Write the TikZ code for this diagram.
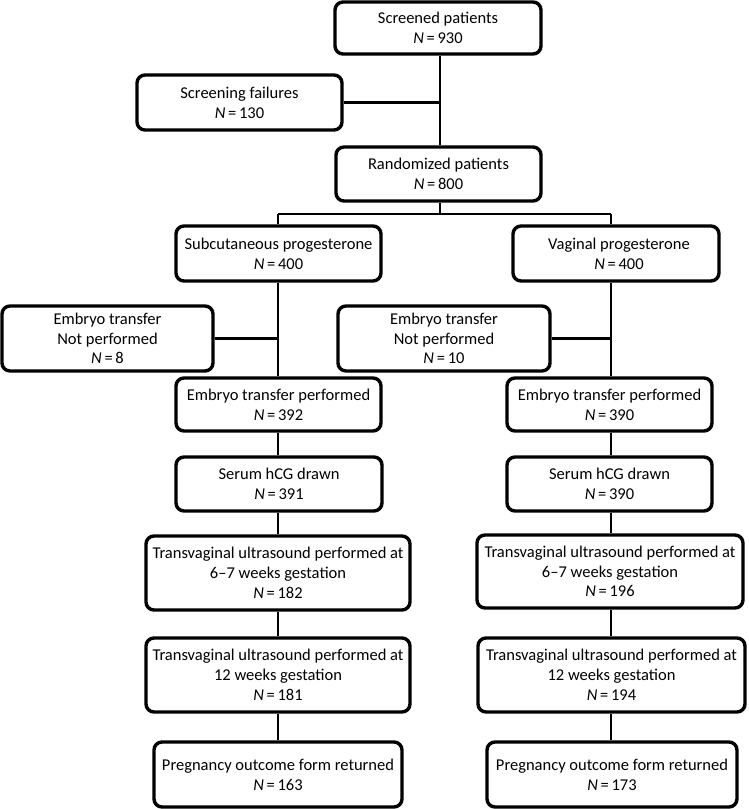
\documentclass[tikz,border=0pt]{standalone}
\usepackage{fontspec}
\setmainfont{Carlito}
\newcommand{\NN}[1]{\textit{N}\,=\,#1}
\begin{document}
\begin{tikzpicture}[x=1pt,y=-1pt,
  box/.style={draw=black, line width=3.4pt, rounded corners=8pt, align=center,
    inner sep=1pt, font=\fontsize{16.5}{19.8}\selectfont},
  conn/.style={draw=black, line width=2.8pt}]
\useasboundingbox (0,0) rectangle (749,809);
\node[box, minimum width=206, minimum height=52] (scr) at (438,28) {Screened patients\\\NN{930}};
\node[box, minimum width=205, minimum height=55] (fail) at (239.5,102.5) {Screening failures\\\NN{130}};
\node[box, minimum width=205, minimum height=54] (rand) at (438.5,174) {Randomized patients\\\NN{800}};
\node[box, minimum width=205, minimum height=55] (sub) at (278.5,253.5) {Subcutaneous progesterone\\\NN{400}};
\node[box, minimum width=206, minimum height=55] (vag) at (616,253.5) {\hspace*{6pt}Vaginal progesterone\\\hspace*{6pt}\NN{400}};
\node[box, minimum width=211, minimum height=65] (nl) at (107.5,338.5) {Embryo transfer\\Not performed\\\NN{8}};
\node[box, minimum width=212, minimum height=65] (nr) at (444,338.5) {Embryo transfer\\Not performed\\\NN{10}};
\node[box, minimum width=205, minimum height=53] (el) at (278.5,404.5) {Embryo transfer performed\\\NN{392}};
\node[box, minimum width=205, minimum height=53] (er) at (609.5,404.5) {Embryo transfer performed\\\NN{390}};
\node[box, minimum width=206, minimum height=54] (sl) at (279,484) {Serum hCG drawn\\\NN{391}};
\node[box, minimum width=205, minimum height=54] (sr) at (609.5,484) {Serum hCG drawn\\\NN{390}};
\node[box, minimum width=264, minimum height=74] (tl1) at (278,573) {Transvaginal ultrasound performed at\\6–7 weeks gestation\\\NN{182}};
\node[box, minimum width=266, minimum height=73] (tr1) at (610,571.5) {Transvaginal ultrasound performed at\\6–7 weeks gestation\\\NN{196}};
\node[box, minimum width=264, minimum height=74] (tl2) at (278,675) {Transvaginal ultrasound performed at\\12 weeks gestation\\\NN{181}};
\node[box, minimum width=267, minimum height=74] (tr2) at (611.5,675) {Transvaginal ultrasound performed at\\12 weeks gestation\\\NN{194}};
\node[box, minimum width=248, minimum height=65] (pl) at (278,774.5) {Pregnancy outcome form returned\\\NN{163}};
\node[box, minimum width=250, minimum height=65] (pr) at (612,774.5) {Pregnancy outcome form returned\\\NN{173}};
\coordinate (top) at (440,0);
\coordinate (bl) at (278,214);
\coordinate (brr) at (611,214);
\draw[conn] (top |- scr.south) -- (top |- rand.north);
\draw[conn] (fail.east) -- (fail.east -| top);
\draw[conn] (top |- rand.south) -- (top |- bl);
\draw[conn] (bl) -- (brr);
\draw[conn] (bl) -- (bl |- sub.north);
\draw[conn] (brr) -- (brr |- vag.north);
\draw[conn] (bl |- sub.south) -- (bl |- el.north);
\draw[conn] (nl.east) -- (nl.east -| bl);
\draw[conn] (brr |- vag.south) -- (brr |- er.north);
\draw[conn] (nr.east) -- (nr.east -| brr);
\draw[conn] (bl |- el.south) -- (bl |- sl.north);
\draw[conn] (bl |- sl.south) -- (bl |- tl1.north);
\draw[conn] (bl |- tl1.south) -- (bl |- tl2.north);
\draw[conn] (bl |- tl2.south) -- (bl |- pl.north);
\draw[conn] (brr |- er.south) -- (brr |- sr.north);
\draw[conn] (brr |- sr.south) -- (brr |- tr1.north);
\draw[conn] (brr |- tr1.south) -- (brr |- tr2.north);
\draw[conn] (brr |- tr2.south) -- (brr |- pr.north);
\end{tikzpicture}
\end{document}
